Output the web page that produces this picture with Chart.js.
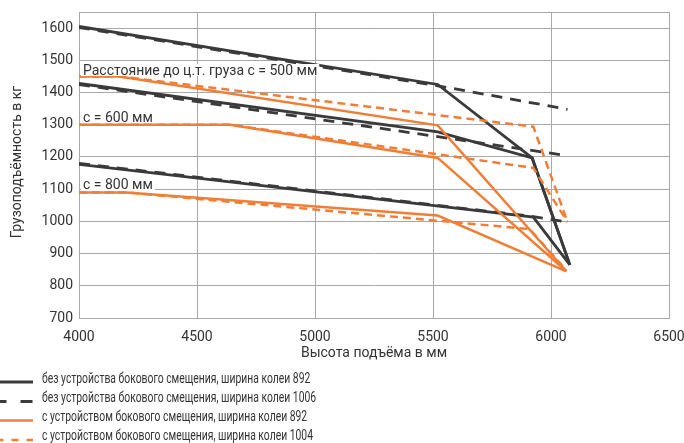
<!DOCTYPE html>
<html>
<head>
<meta charset="utf-8">
<script src="https://cdn.jsdelivr.net/npm/chart.js@4.4.0/dist/chart.umd.min.js"></script>
<style>
  html, body { margin: 0; padding: 0; background: #fff; }
  #wrap { width: 684px; height: 443px; position: relative; }
</style>
</head>
<body>
<div id="wrap"><canvas id="c" width="684" height="443"></canvas></div>
<script>
// Axis ticks
const xTicks = [4000, 4500, 5000, 5500, 6000, 6500];
const yTicks = [700, 800, 900, 1000, 1100, 1200, 1300, 1400, 1500, 1600];

// Lift height (mm) / capacity (kg) — load centre c = 500 mm
const h500_std892   = [4000, 5520, 5920, 6080];
const kg500_std892  = [1605, 1425, 1197, 865];
const h500_std1006  = [4000, 5520, 6070];
const kg500_std1006 = [1602, 1421, 1348];
const h500_ss892    = [4000, 4170, 5520, 6065];
const kg500_ss892   = [1450, 1450, 1298, 845];
const h500_ss1004   = [4000, 4170, 5925, 6070];
const kg500_ss1004  = [1450, 1450, 1294, 998];

// Load centre c = 600 mm
const h600_std892   = [4000, 5520, 5920, 6080];
const kg600_std892  = [1428, 1278, 1197, 865];
const h600_std1006  = [4000, 5520, 6070];
const kg600_std1006 = [1425, 1263, 1204];
const h600_ss892    = [4000, 4640, 5520, 6065];
const kg600_ss892   = [1300, 1300, 1197, 845];
const h600_ss1004   = [4000, 4640, 5925, 6070];
const kg600_ss1004  = [1300, 1300, 1166, 998];

// Load centre c = 800 mm
const h800_std892   = [4000, 5925, 6080];
const kg800_std892  = [1177, 1013, 865];
const h800_std1006  = [4000, 5925, 6070];
const kg800_std1006 = [1180, 1015, 998];
const h800_ss892    = [4000, 4200, 5520, 6065];
const kg800_ss892   = [1090, 1090, 1018, 845];
const h800_ss1004   = [4000, 4200, 5910, 6065];
const kg800_ss1004  = [1090, 1090, 976, 848];

const legendLabels = [
  'без устройства бокового смещения, ширина колеи 892',
  'без устройства бокового смещения, ширина колеи 1006',
  'с устройством бокового смещения, ширина колеи 892',
  'с устройством бокового смещения, ширина колеи 1004'
];
const centreLabels = ['Расстояние до ц.т. груза c = 500 мм', 'c = 600 мм', 'c = 800 мм'];
const centreLabelKg = [1453, 1308, 1099];
const xTitle = 'Высота подъёма в мм';
const yTitle = 'Грузоподъёмность в кг';

const DARK = '#3a3a3a';
const ORANGE = '#f07e36';
const GRID = '#a8a8a8';
const TEXT = '#333333';
const FONT = 'Roboto, "Liberation Sans", Arial, sans-serif';

// line styles per kind: standard 892, standard 1006, side-shift 892, side-shift 1004
const styles = [
  { color: DARK,   width: 2.8, dash: [],      legendDash: [],       legendOffset: 0 },
  { color: DARK,   width: 2.8, dash: [11, 8], legendDash: [12, 14], legendOffset: 5.5 },
  { color: ORANGE, width: 2.5, dash: [],      legendDash: [],       legendOffset: 0 },
  { color: ORANGE, width: 2.5, dash: [8, 5],  legendDash: [7, 8],   legendOffset: 3.5 }
];

function series(h, kg, kind) {
  const s = styles[kind];
  return {
    data: h.map((x, i) => ({ x: x, y: kg[i] })),
    borderColor: s.color,
    borderWidth: s.width,
    borderDash: s.dash,
    pointRadius: 0,
    showLine: true,
    fill: false,
    tension: 0
  };
}

const datasets = [
  series(h500_ss892, kg500_ss892, 2),
  series(h500_ss1004, kg500_ss1004, 3),
  series(h600_ss892, kg600_ss892, 2),
  series(h600_ss1004, kg600_ss1004, 3),
  series(h800_ss892, kg800_ss892, 2),
  series(h800_ss1004, kg800_ss1004, 3),
  series(h500_std1006, kg500_std1006, 1),
  series(h600_std1006, kg600_std1006, 1),
  series(h800_std1006, kg800_std1006, 1),
  series(h500_std892, kg500_std892, 0),
  series(h600_std892, kg600_std892, 0),
  series(h800_std892, kg800_std892, 0)
];

// frame around the plotting area
const frame = {
  id: 'frame',
  beforeDatasetsDraw(chart) {
    const a = chart.chartArea, ctx = chart.ctx;
    ctx.save();
    ctx.strokeStyle = GRID;
    ctx.lineWidth = 1;
    ctx.strokeRect(Math.round(a.left) + 0.5, Math.round(a.top) + 0.5,
                   Math.round(a.right - a.left), Math.round(a.bottom - a.top));
    ctx.restore();
  }
};

// load-centre captions with white backing (baseline sits on the given capacity)
const captions = {
  id: 'captions',
  afterDatasetsDraw(chart) {
    const ctx = chart.ctx, xs = chart.scales.x, ys = chart.scales.y;
    ctx.save();
    ctx.font = '14px ' + FONT;
    ctx.textBaseline = 'alphabetic';
    ctx.textAlign = 'left';
    centreLabels.forEach((t, i) => {
      const x = xs.left + 4;
      const y = Math.round(ys.getPixelForValue(centreLabelKg[i]));
      const w = ctx.measureText(t).width;
      ctx.fillStyle = '#fff';
      ctx.fillRect(x - 2, y - 11, w + 4, 12);
      ctx.fillStyle = TEXT;
      ctx.fillText(t, x, y);
    });
    ctx.restore();
  }
};

// axis titles
const axisTitles = {
  id: 'axisTitles',
  afterDraw(chart) {
    const ctx = chart.ctx, a = chart.chartArea;
    ctx.save();
    ctx.font = '14px ' + FONT;
    ctx.fillStyle = TEXT;
    ctx.textAlign = 'center';
    ctx.textBaseline = 'middle';
    ctx.fillText(xTitle, (a.left + a.right) / 2, 353);
    ctx.translate(17, 162);
    ctx.rotate(-Math.PI / 2);
    ctx.fillText(yTitle, 0, 0);
    ctx.restore();
  }
};

// legend rows below the axis
const legendRows = {
  id: 'legendRows',
  afterDraw(chart) {
    const ctx = chart.ctx;
    const textY = [379, 398, 417, 436];
    const lineY = [382, 401.5, 420.5, 440];
    ctx.save();
    ctx.font = '14px ' + FONT;
    ctx.textBaseline = 'middle';
    ctx.textAlign = 'left';
    legendLabels.forEach((t, i) => {
      const s = styles[i];
      ctx.strokeStyle = s.color;
      ctx.lineWidth = s.width;
      ctx.setLineDash(s.legendDash);
      ctx.lineDashOffset = s.legendOffset;
      ctx.beginPath();
      ctx.moveTo(0, lineY[i]);
      ctx.lineTo(33, lineY[i]);
      ctx.stroke();
      ctx.setLineDash([]);
      ctx.save();
      ctx.translate(42, textY[i]);
      ctx.scale(0.74, 1);
      ctx.fillStyle = TEXT;
      ctx.fillText(t, 0, 0);
      ctx.restore();
    });
    ctx.restore();
  }
};

new Chart(document.getElementById('c'), {
  type: 'scatter',
  data: { datasets: datasets },
  plugins: [frame, captions, axisTitles, legendRows],
  options: {
    responsive: false,
    animation: false,
    devicePixelRatio: 1,
    layout: { padding: { left: 0, top: 12, right: 15, bottom: 81 } },
    plugins: { legend: { display: false }, tooltip: { enabled: false } },
    scales: {
      x: {
        type: 'linear',
        min: 4000, max: 6500,
        afterBuildTicks: s => { s.ticks = xTicks.map(v => ({ value: v })); },
        afterFit: s => { s.height = 44; s.paddingLeft = 0; s.paddingRight = 0; },
        grid: { color: GRID, lineWidth: 1, drawTicks: false },
        border: { color: GRID },
        ticks: { color: TEXT, font: { family: FONT, size: 14 }, padding: 11, maxRotation: 0,
                 callback: v => String(v) }
      },
      y: {
        type: 'linear',
        min: 700, max: 1650,
        afterBuildTicks: s => { s.ticks = yTicks.map(v => ({ value: v })); },
        afterFit: s => { s.width = 79; s.paddingTop = 0; s.paddingBottom = 0; },
        grid: { color: GRID, lineWidth: 1, drawTicks: false },
        border: { color: GRID },
        ticks: { color: TEXT, font: { family: FONT, size: 14 }, padding: 6,
                 callback: v => String(v) }
      }
    }
  }
});
</script>
</body>
</html>
